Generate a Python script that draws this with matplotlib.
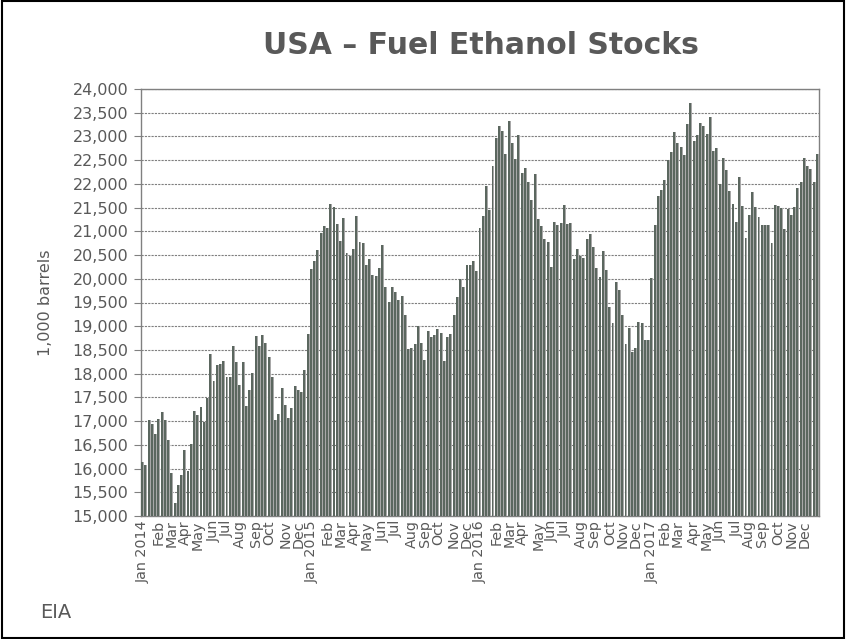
import numpy as np
import pandas as pd
import matplotlib
matplotlib.use('Agg')
from matplotlib import pyplot as plt
from matplotlib.ticker import FuncFormatter, MultipleLocator

# weekly fuel ethanol stocks, 1,000 barrels
stocks_2014 = [16130, 16080, 17020, 16930, 16730, 17040, 17200, 17020, 16600, 15900,
               15280, 15650, 15870, 16400, 15950, 16520, 17210, 17130, 17290, 16990,
               17480, 18420, 17850, 18180, 18200, 18270, 17940, 17930, 18580, 18250,
               17760, 18240, 17310, 17660, 18020, 18800, 18580, 18820, 18640, 18350,
               17930, 17030, 17160, 17700, 17330, 17060, 17280, 17740, 17660, 17610,
               18080, 18840]
stocks_2015 = [20210, 20370, 20610, 20970, 21120, 21070, 21580, 21520, 21160, 20800,
               21290, 20540, 20480, 20630, 21330, 20780, 20750, 20280, 20420, 20090,
               20060, 20230, 20710, 19830, 19520, 19830, 19730, 19550, 19640, 19230,
               18520, 18550, 18620, 19000, 18640, 18280, 18890, 18780, 18810, 18940,
               18860, 18270, 18770, 18840, 19240, 19620, 19990, 19820, 20300, 20300,
               20370, 20160]
stocks_2016 = [21080, 21330, 21950, 21450, 22370, 22960, 23220, 23120, 22640, 23320,
               22860, 22530, 23030, 22230, 22330, 22050, 21650, 22210, 21270, 21120,
               20830, 20780, 20250, 21190, 21130, 21180, 21560, 21150, 21170, 20410,
               20620, 20480, 20440, 20830, 20950, 20670, 20220, 20030, 20590, 20190,
               19410, 19060, 19930, 19760, 19240, 18630, 18970, 18460, 18540, 19090,
               19070, 18700, 18700]
stocks_2017 = [20020, 21130, 21740, 21880, 22090, 22500, 22670, 23100, 22860, 22770,
               22600, 23260, 23710, 22910, 23040, 23280, 23220, 23060, 23410, 22690,
               22760, 21990, 22550, 22290, 21840, 21580, 21190, 22150, 21540, 20860,
               21350, 21830, 21520, 21310, 21130, 21140, 21140, 20750, 21550, 21530,
               21490, 21040, 21480, 21350, 21510, 21910, 22040, 22550, 22370, 22320,
               22040, 22620]

stocks = np.array(stocks_2014 + stocks_2015 + stocks_2016 + stocks_2017)
weeks = pd.date_range('2014-01-03', periods=len(stocks), freq='7D')

# one label per month, on the first week of that month
tick_pos = []
tick_lab = []
for i, d in enumerate(weeks):
    if i == 0 or d.month != weeks[i-1].month:
        tick_pos.append(i)
        tick_lab.append(d.strftime('%b %Y') if d.month == 1 else d.strftime('%b'))

txt = '#595959'
fig = plt.figure(figsize=(8.46, 6.39), dpi=100)
ax = fig.add_axes([141/846, 1-516/639, (819-141)/846, (516-89)/639])

x = np.arange(len(stocks))
ax.bar(x + 0.15, stocks - 15000, bottom=15000, width=0.6, color='#a8a8a8', zorder=3)
ax.bar(x - 0.15, stocks - 15000, bottom=15000, width=0.6, color='#5b675f', zorder=4)

ax.set_xlim(-0.5, len(stocks) - 0.5)
ax.set_ylim(15000, 24000)
ax.yaxis.set_major_locator(MultipleLocator(500))
ax.yaxis.set_major_formatter(FuncFormatter(lambda v, p: '{:,.0f}'.format(v)))
ax.grid(axis='y', color='#7f7f7f', linestyle=(0, (2, 1)), linewidth=0.8, zorder=1)

ax.set_xticks(tick_pos)
ax.set_xticklabels(tick_lab, rotation=90, fontsize=10.3, color=txt)
ax.tick_params(axis='x', length=0, pad=3)
ax.tick_params(axis='y', direction='out', length=5, color='#808080', labelsize=11.5,
               labelcolor=txt, pad=4)
for s in ax.spines.values():
    s.set_color('#808080')
    s.set_linewidth(1)

ax.set_ylabel('1,000 barrels', fontsize=11.5, color=txt, labelpad=14)
fig.text(481/846, 1 - 46/639, 'USA – Fuel Ethanol Stocks', ha='center', va='center',
         fontsize=21.5, fontweight='bold', color=txt)
fig.text(40/846, 1 - 612/639, 'EIA', ha='left', va='center', fontsize=14, color=txt)

# frame around the whole picture
fig.patches.append(plt.Rectangle((0.002, 0.002), 0.996, 0.996, transform=fig.transFigure,
                                 fill=False, edgecolor='black', linewidth=1.5))

fig.savefig('out.png', dpi=100)
